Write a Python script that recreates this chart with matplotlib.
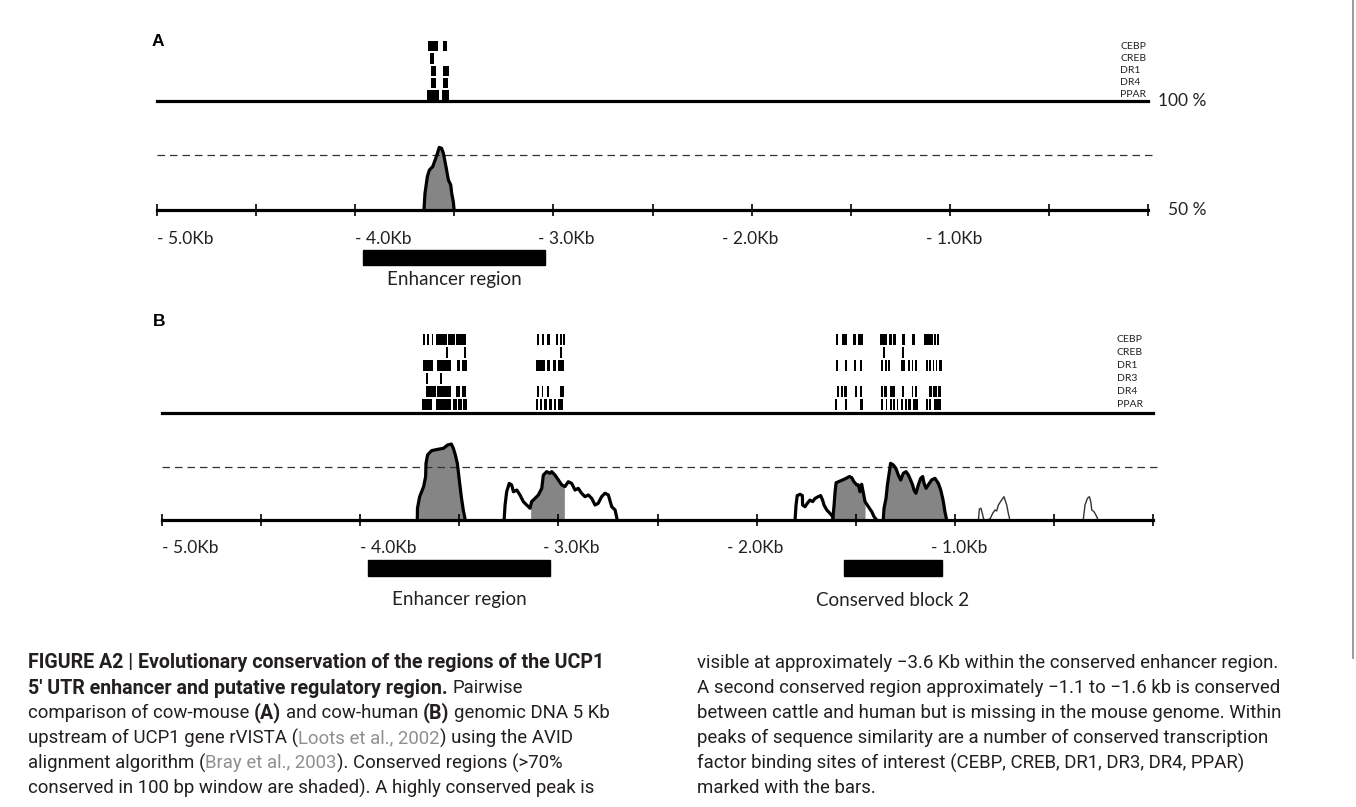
import matplotlib
matplotlib.use("Agg")
import matplotlib.pyplot as plt
from matplotlib.lines import Line2D
from matplotlib.patches import Rectangle
import numpy as np

W, H = 1356, 807
LABEL_FONT = ["Lato", "DejaVu Sans"]
CAPTION_FONT = ["Roboto", "DejaVu Sans"]
GRAY = "#858585"

# x axis: kb upstream of UCP1
ticks = np.arange(-5.0, 0.01, 0.5)
tick_labels = ["- 5.0Kb", "- 4.0Kb", "- 3.0Kb", "- 2.0Kb", "- 1.0Kb"]
tick_label_x = [-5.0, -4.0, -3.08, -2.15, -1.12]
threshold = 75

enhancer = (-3.96, -3.04)
block2 = (-1.56, -1.065)

# ---- panel A: cow-mouse ----
tf_a = ["CEBP", "CREB", "DR1", "DR4", "PPAR"]
a_cebp = [(-3.631, -3.584), (-3.559, -3.535)]
a_creb = [(-3.623, -3.603)]
a_dr1 = [(-3.618, -3.594), (-3.559, -3.525)]
a_dr4 = [(-3.618, -3.594), (-3.555, -3.530)]
a_ppar = [(-3.636, -3.577), (-3.564, -3.525)]

a_peak_kb = [-3.653, -3.648, -3.636, -3.626, -3.609, -3.597, -3.585, -3.576,
             -3.564, -3.555, -3.542, -3.530, -3.518, -3.513, -3.505, -3.501]
a_peak_pct = [50, 57.6, 65.3, 68.3, 69.9, 72.9, 76.0, 78.7,
              78.3, 76.0, 69.9, 63.8, 61.5, 57.6, 53.8, 50]

# ---- panel B: cow-human ----
tf_b = ["CEBP", "CREB", "DR1", "DR3", "DR4", "PPAR"]
b_cebp = [(-3.685, -3.671), (-3.663, -3.653), (-3.639, -3.631), (-3.618, -3.564),
          (-3.557, -3.524), (-3.517, -3.466),
          (-3.110, -3.098), (-3.083, -3.071), (-3.056, -3.042), (-3.012, -3.002),
          (-2.992, -2.980), (-2.975, -2.967),
          (-1.599, -1.588), (-1.571, -1.542), (-1.512, -1.499), (-1.487, -1.465),
          (-1.377, -1.340), (-1.330, -1.319), (-1.310, -1.297), (-1.268, -1.251),
          (-1.218, -1.201), (-1.155, -1.112), (-1.105, -1.095), (-1.088, -1.078)]
b_creb = [(-3.567, -3.559), (-3.476, -3.466), (-2.992, -2.982),
          (-1.364, -1.352), (-1.266, -1.256)]
b_dr1 = [(-3.685, -3.634), (-3.611, -3.544), (-3.513, -3.497), (-3.488, -3.460),
         (-3.113, -3.068), (-3.056, -3.042), (-3.026, -3.014), (-3.000, -2.972),
         (-1.599, -1.591), (-1.554, -1.546), (-1.509, -1.499), (-1.478, -1.470),
         (-1.372, -1.361), (-1.352, -1.344), (-1.335, -1.327), (-1.273, -1.251),
         (-1.234, -1.226), (-1.218, -1.209), (-1.201, -1.192), (-1.145, -1.137),
         (-1.128, -1.122), (-1.112, -1.105), (-1.095, -1.088), (-1.078, -1.066)]
b_dr3 = [(-3.670, -3.660), (-3.596, -3.586)]
b_dr4 = [(-3.670, -3.618), (-3.611, -3.544), (-3.517, -3.497), (-3.488, -3.466),
         (-3.106, -3.096), (-3.085, -3.076), (-3.056, -3.046), (-2.992, -2.972),
         (-1.593, -1.583), (-1.576, -1.566), (-1.559, -1.542), (-1.504, -1.495),
         (-1.478, -1.468), (-1.374, -1.364), (-1.357, -1.344), (-1.327, -1.302),
         (-1.268, -1.256), (-1.218, -1.209), (-1.201, -1.192), (-1.128, -1.117),
         (-1.108, -1.092), (-1.083, -1.071)]
b_ppar = [(-3.690, -3.639), (-3.618, -3.544), (-3.534, -3.513), (-3.505, -3.488),
          (-3.480, -3.463),
          (-3.113, -3.101), (-3.093, -3.083), (-3.071, -3.059), (-3.046, -3.034),
          (-3.022, -3.012), (-3.000, -2.975),
          (-1.604, -1.596), (-1.554, -1.542), (-1.478, -1.462), (-1.374, -1.364),
          (-1.347, -1.340), (-1.327, -1.319), (-1.310, -1.302), (-1.293, -1.285),
          (-1.273, -1.263), (-1.251, -1.243), (-1.234, -1.223), (-1.209, -1.184),
          (-1.145, -1.137), (-1.128, -1.122), (-1.105, -1.071)]

b_peak1_kb = [-3.712, -3.711, -3.70, -3.68, -3.67, -3.668, -3.66, -3.64, -3.61, -3.58,
              -3.56, -3.54, -3.53, -3.52, -3.51, -3.50, -3.49, -3.48, -3.47]
b_peak1_pct = [50, 55.5, 60.9, 65.6, 70.2, 76.5, 80.4, 82.4, 83.0, 83.5,
               85.0, 85.5, 83.5, 80.4, 76.5, 68.7, 60.9, 54.7, 50]
b_peak2_kb = [-3.274, -3.269, -3.261, -3.248, -3.236, -3.227, -3.210, -3.194, -3.177, -3.160,
              -3.143, -3.135, -3.118, -3.101, -3.084, -3.076, -3.059, -3.042, -3.034, -3.017,
              -3.000, -2.983, -2.967, -2.950, -2.933, -2.916, -2.900, -2.883, -2.866, -2.849,
              -2.832, -2.815, -2.799, -2.782, -2.765, -2.748, -2.731, -2.714, -2.703]
b_peak2_pct = [50, 57.0, 63.2, 67.1, 66.4, 63.2, 64.0, 61.7, 58.6, 57.0,
               55.5, 58.6, 60.1, 61.7, 64.8, 71.0, 72.6, 71.8, 72.6, 71.0,
               68.7, 66.4, 65.6, 67.9, 67.1, 64.0, 64.8, 62.5, 60.9, 61.7,
               60.1, 57.0, 57.8, 60.9, 62.5, 61.7, 56.2, 54.7, 50]
b_peak2_shade = (-3.14, -2.97)
b_peak3_kb = [-1.806, -1.801, -1.795, -1.781, -1.769, -1.768, -1.756, -1.744, -1.731, -1.717,
              -1.705, -1.689, -1.677, -1.667, -1.660, -1.646, -1.630, -1.616, -1.613]
b_peak3_pct = [50, 57.0, 61.4, 62.0, 61.4, 57.0, 56.2, 57.8, 59.3, 58.6,
               60.1, 60.9, 61.4, 59.3, 57.0, 54.7, 53.1, 51.6, 50]
b_peak4_kb = [-1.616, -1.609, -1.604, -1.599, -1.579, -1.554, -1.532, -1.520, -1.509, -1.495,
              -1.487, -1.478, -1.470, -1.461, -1.453, -1.436, -1.419, -1.408, -1.394]
b_peak4_pct = [50, 57.0, 63.2, 67.4, 68.2, 69.2, 70.3, 69.8, 67.9, 66.4,
               66.4, 63.2, 66.7, 62.5, 58.6, 56.2, 53.9, 51.6, 50]
b_peak4_shade = (-1.616, -1.453)
b_peak5_kb = [-1.361, -1.357, -1.347, -1.340, -1.330, -1.324, -1.310, -1.297, -1.285, -1.273,
              -1.260, -1.246, -1.234, -1.223, -1.213, -1.206, -1.196, -1.184, -1.172, -1.162,
              -1.155, -1.145, -1.134, -1.117, -1.100, -1.083, -1.071, -1.061, -1.055, -1.050,
              -1.041]
b_peak5_pct = [50, 55.5, 60.1, 66.4, 72.6, 76.5, 75.7, 74.1, 71.0, 68.7,
               71.8, 72.6, 71.0, 68.7, 66.4, 64.0, 62.5, 66.4, 69.5, 70.3,
               67.1, 64.8, 66.4, 68.7, 69.5, 67.1, 64.0, 60.1, 57.0, 53.9,
               50]
b_peak6_kb = [-0.881, -0.876, -0.868, -0.859, -0.853, -0.843, -0.822, -0.809,
              -0.797, -0.789, -0.780, -0.769, -0.752, -0.738, -0.730, -0.722]
b_peak6_pct = [50, 55.1, 55.5, 52.3, 50, 50, 50.5, 53.1,
               54.7, 54.2, 57.0, 58.6, 60.9, 57.0, 53.1, 50]
b_peak7_kb = [-0.352, -0.343, -0.331, -0.321, -0.314, -0.309, -0.298, -0.288, -0.276]
b_peak7_pct = [50, 57.0, 60.1, 60.9, 58.6, 54.7, 53.9, 52.3, 50]

# ---- caption ----
caption_left = [
    [("FIGURE A2 | Evolutionary conservation of the regions of the UCP1", "bold")],
    [("5\u2032 UTR enhancer and putative regulatory region.", "bold"), (" Pairwise", "normal")],
    [("comparison of cow-mouse ", "normal"), ("(A)", "bold"), (" and cow-human ", "normal"),
     ("(B)", "bold"), (" genomic DNA 5 Kb", "normal")],
    [("upstream of UCP1 gene rVISTA (", "normal"), ("Loots et al., 2002", "cite"),
     (") using the AVID", "normal")],
    [("alignment algorithm (", "normal"), ("Bray et al., 2003", "cite"),
     ("). Conserved regions (>70%", "normal")],
    [("conserved in 100 bp window are shaded). A highly conserved peak is", "normal")],
]
caption_right = [
    "visible at approximately \u22123.6 Kb within the conserved enhancer region.",
    "A second conserved region approximately \u22121.1 to \u22121.6 kb is conserved",
    "between cattle and human but is missing in the mouse genome. Within",
    "peaks of sequence similarity are a number of conserved transcription",
    "factor binding sites of interest (CEBP, CREB, DR1, DR3, DR4, PPAR)",
    "marked with the bars.",
]

fig = plt.figure(figsize=(W / 100, H / 100), dpi=100)
renderer = fig.canvas.get_renderer()


def px_axes(left, top, right, bottom):
    return fig.add_axes([left / W, 1 - bottom / H, (right - left) / W, (bottom - top) / H])


def below(ax, off):
    return -off / (ax.get_position().height * H)


def conservation_axes(left, top, right, bottom):
    ax = px_axes(left, top, right, bottom)
    ax.set_xlim(-5, 0)
    ax.set_ylim(50, 100)
    ax.patch.set_alpha(0)
    for side in ("left", "right"):
        ax.spines[side].set_visible(False)
    for side in ("top", "bottom"):
        ax.spines[side].set_linewidth(2.3)
    ax.set_xticks(ticks)
    ax.set_xticklabels([])
    ax.set_yticks([])
    ax.tick_params(axis="x", direction="inout", length=9, width=1.2)
    return ax


def sites_axes(left, top, right, bottom, rows, names, label_x):
    ax = px_axes(left, top, right, bottom)
    n = len(rows)
    ax.set_xlim(-5, 0)
    ax.set_ylim(0, n)
    ax.axis("off")
    for i, (sites, name) in enumerate(zip(rows, names)):
        y = n - 1 - i
        ax.broken_barh([(s, e - s) for s, e in sites], (y + 0.06, 0.84),
                       facecolors="black", lw=0)
        ax.text(label_x, y + 0.5, name, fontsize=7.5, va="center", ha="left",
                family=LABEL_FONT, color="#222222")
    return ax


def axis_annotations(ax, lab_off, bar_off, text_off, regions):
    tr = ax.get_xaxis_transform()
    for x, lab in zip(tick_label_x, tick_labels):
        ax.text(x, below(ax, lab_off), lab, transform=tr, ha="left", va="center",
                fontsize=12.5, family=LABEL_FONT, color="#222222")
    for (s, e), name in regions:
        y0, y1 = below(ax, bar_off[1]), below(ax, bar_off[0])
        ax.add_patch(Rectangle((s, y0), e - s, y1 - y0, transform=tr,
                               color="black", clip_on=False))
        ax.text((s + e) / 2, below(ax, text_off), name, transform=tr, ha="center",
                va="center", fontsize=13.5, family=LABEL_FONT, color="#222222")


def draw_peak(ax, kb, pct, shade=None, lw=2.3, color="black"):
    kb = np.asarray(kb, float)
    pct = np.asarray(pct, float)
    if shade == "all":
        ax.fill(kb, pct, color=GRAY, lw=0)
    elif shade is not None:
        lo, hi = shade
        inside = (kb > lo) & (kb < hi)
        xs = np.concatenate([[lo], kb[inside], [hi]])
        ax.fill_between(xs, 50, np.interp(xs, kb, pct), color=GRAY, lw=0)
    ax.plot(kb, pct, color=color, lw=lw, clip_on=False, solid_joinstyle="round")


def dashed(ax, end):
    ax.plot([-5, end], [threshold, threshold], color="#333333", lw=0.9,
            ls=(0, (6, 4)), clip_on=False)


# ---- panel A ----
fig.text(152 / W, 1 - 41 / H, "A", fontsize=12.5, fontweight="bold",
         family="Liberation Sans", va="center")
sites_axes(157, 40, 1148, 101, [a_cebp, a_creb, a_dr1, a_dr4, a_ppar], tf_a, -0.141)
ax_a = conservation_axes(157, 101, 1148, 210)
dashed(ax_a, 0.02)
draw_peak(ax_a, a_peak_kb, a_peak_pct, shade="all")
ax_a.text(0.05, 100, "100 %", ha="left", va="center", fontsize=12.5,
          family=LABEL_FONT, color="#222222", clip_on=False)
ax_a.text(0.10, 50, "50 %", ha="left", va="center", fontsize=12.5,
          family=LABEL_FONT, color="#222222", clip_on=False)
axis_annotations(ax_a, 29, (40, 55), 69, [(enhancer, "Enhancer region")])

# ---- panel B ----
fig.text(153 / W, 1 - 321 / H, "B", fontsize=12.5, fontweight="bold",
         family="Liberation Sans", va="center")
sites_axes(162, 333, 1153, 411, [b_cebp, b_creb, b_dr1, b_dr3, b_dr4, b_ppar], tf_b, -0.182)
ax_b = conservation_axes(162, 413, 1153, 520)
dashed(ax_b, 0.03)
draw_peak(ax_b, b_peak1_kb, b_peak1_pct, shade="all")
draw_peak(ax_b, b_peak2_kb, b_peak2_pct, shade=b_peak2_shade)
draw_peak(ax_b, b_peak3_kb, b_peak3_pct)
draw_peak(ax_b, b_peak4_kb, b_peak4_pct, shade=b_peak4_shade)
draw_peak(ax_b, b_peak5_kb, b_peak5_pct, shade="all")
draw_peak(ax_b, b_peak6_kb, b_peak6_pct, lw=1.0, color="#333333")
draw_peak(ax_b, b_peak7_kb, b_peak7_pct, lw=1.0, color="#333333")
axis_annotations(ax_b, 28, (40, 56), 80,
                 [(enhancer, "Enhancer region"), (block2, "Conserved block 2")])

fig.add_artist(Line2D([1353 / W] * 2, [1, 1 - 658 / H], color="#8a8a8a", lw=1.2))


# ---- caption with mixed styles ----
def text_width(s, size, weight):
    t = fig.text(0, 0, s, fontsize=size, fontweight=weight, family=CAPTION_FONT)
    w = t.get_window_extent(renderer).width
    t.remove()
    return w


reg_size = 10 * 585 / text_width(caption_right[0], 10, "normal")
bold_size = 10 * 468 / text_width("Evolutionary conservation of the regions of the UCP1", 10, "bold")
sizes = {"normal": reg_size, "bold": bold_size}
space_w = {k: text_width("a a", v, k) - text_width("aa", v, k) for k, v in sizes.items()}


def caption_line(x, y, pieces):
    for text, style in pieces:
        weight = "bold" if style == "bold" else "normal"
        color = "#8f8f8f" if style == "cite" else "#231f20"
        core = text.strip(" ")
        x += (len(text) - len(text.lstrip(" "))) * space_w[weight]
        t = fig.text(x / W, 1 - y / H, core, fontsize=sizes[weight], fontweight=weight,
                     family=CAPTION_FONT, color=color, va="center", ha="left")
        x = t.get_window_extent(renderer).x1
        x += (len(text) - len(text.rstrip(" "))) * space_w[weight]


for i, pieces in enumerate(caption_left):
    caption_line(28, 663 + 25 * i, pieces)
for i, line in enumerate(caption_right):
    caption_line(697, 663 + 25 * i, [(line, "normal")])

fig.savefig("out.png", dpi=100)
